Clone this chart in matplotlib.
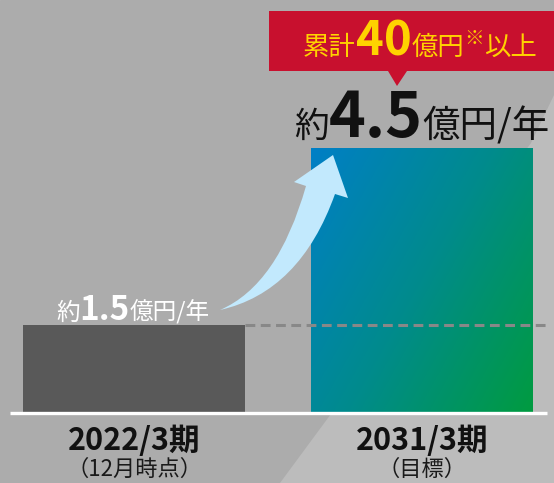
import matplotlib
matplotlib.use("Agg")
import numpy as np
import matplotlib.pyplot as plt
from matplotlib.patches import Polygon, Rectangle, PathPatch
from matplotlib.path import Path
from matplotlib.colors import LinearSegmentedColormap

plt.rcParams['font.family'] = ['Noto Sans CJK JP', 'DejaVu Sans']

# data
periods = ["2022/3期", "2031/3期"]
sub_labels = ["（12月時点）", "（目標）"]
values = [1.5, 4.5]
value_text = ["1.5", "4.5"]
total_text = "40"

W, H = 554, 483
fig = plt.figure(figsize=(W / 100, H / 100), dpi=100)

# background layer in pixel coords
bg = fig.add_axes([0, 0, 1, 1], zorder=0)
bg.set_xlim(0, W)
bg.set_ylim(H, 0)
bg.axis("off")
bg.add_patch(Rectangle((0, 0), W, H, color="#acacac", zorder=0))
bg.add_patch(Polygon([(280, 483), (531, 143), (554, 95), (554, 483)],
                     closed=True, color="#bcbcbc", lw=0, zorder=0.5))

# bar axes: y=0 at pixel 413, 1 unit = 58.9px; x index 0 -> 134px, 1 -> 422px
px_unit_y = 58.9
base_px = H - 413
ax = fig.add_axes([0, 0, 1, 1], zorder=1)
ax.patch.set_alpha(0)
ax.axis("off")
ax.set_ylim(-base_px / px_unit_y, (H - base_px) / px_unit_y)
ax.set_xlim(-134 / 288, (W - 134) / 288)
bw = 222 / 288

x = np.arange(len(values))
bars = ax.bar(x, values, width=bw, color=["#595959", "none"], zorder=2)

# gradient fill for target bar (blue top-left -> green bottom-right)
b = bars[1]
x0, y0 = b.get_x(), b.get_y()
x1, y1 = x0 + b.get_width(), y0 + b.get_height()
gx, gy = np.meshgrid(np.linspace(0, 1, 200), np.linspace(0, 1, 200))
t = 0.6 * gx + 0.4 * gy
cmap = LinearSegmentedColormap.from_list("bg", ["#007fc6", "#008b8c", "#009b40"])
im = ax.imshow(t, cmap=cmap, extent=(x0, x1, y0, y1), origin="upper",
               aspect="auto", zorder=2)
im.set_clip_path(Rectangle((x0, y0), x1 - x0, y1 - y0, transform=ax.transData))

# dashed reference line at current level, drawn over the target bar
ax.plot([x[0] + bw / 2, 1.44], [values[0], values[0]], ls=(0, (3.2, 1.8)),
        color="#888888", lw=2.2, zorder=4)
# baseline
ax.plot([(10 - 134) / 288, (547 - 134) / 288], [0, 0], color="white",
        lw=2.4, zorder=3, solid_capstyle="butt")

# overlay layer for arrow, callout and text
ov = fig.add_axes([0, 0, 1, 1], zorder=3)
ov.patch.set_alpha(0)
ov.set_xlim(0, W)
ov.set_ylim(H, 0)
ov.axis("off")

verts = [(220, 310), (278, 285), (306, 186), (294, 182), (333, 155),
         (348, 198), (335, 194), (300, 292), (220, 310)]
codes = [Path.MOVETO, Path.CURVE3, Path.CURVE3, Path.LINETO, Path.LINETO,
         Path.LINETO, Path.LINETO, Path.CURVE3, Path.CURVE3]
ov.add_patch(PathPatch(Path(verts, codes), facecolor="#c2e9fd", lw=0, zorder=3))

ov.add_patch(Polygon([(269, 11), (554, 11), (554, 71), (407, 71), (397, 86),
                      (388, 71), (269, 71)], closed=True, color="#c8102e",
                     lw=0, zorder=3))

fig.canvas.draw()
renderer = fig.canvas.get_renderer()


def run_text(pieces, y_base, color, center):
    # pieces: (text, size, weight, dy) laid out left to right, centred
    objs = []
    xcur = 0
    for s, size, weight, dy in pieces:
        tt = ov.text(xcur, y_base + dy, s, fontsize=size, fontweight=weight,
                     color=color, va="baseline", ha="left", zorder=5)
        xcur += tt.get_window_extent(renderer).width
        objs.append(tt)
    shift = center - xcur / 2
    for tt in objs:
        px, py = tt.get_position()
        tt.set_position((px + shift, py))


yellow = "#ffd200"
run_text([("累計", 19, "normal", 0), (total_text, 34, "bold", 0),
          ("億円", 19, "normal", 0), ("※", 14, "normal", -11),
          ("以上", 19, "normal", 0)], 55, yellow, center=420)

run_text([("約", 25, "normal", 0), (value_text[1], 45, "bold", 0),
          ("億円/年", 27, "normal", 0)], 137, "#111111", center=422)

run_text([("約", 17, "normal", 0), (value_text[0], 24, "bold", 0),
          ("億円/年", 17, "normal", 0)], 320, "white", center=133)

for i, (p, s) in enumerate(zip(periods, sub_labels)):
    xc = 134 + 288 * i
    ov.text(xc, 450, p, fontsize=22, fontweight="bold", color="#111111",
            ha="center", va="baseline", zorder=5)
    ov.text(xc, 476, s, fontsize=16, color="#1a1a1a", ha="center",
            va="baseline", zorder=5)

fig.savefig("out.png", dpi=100)
